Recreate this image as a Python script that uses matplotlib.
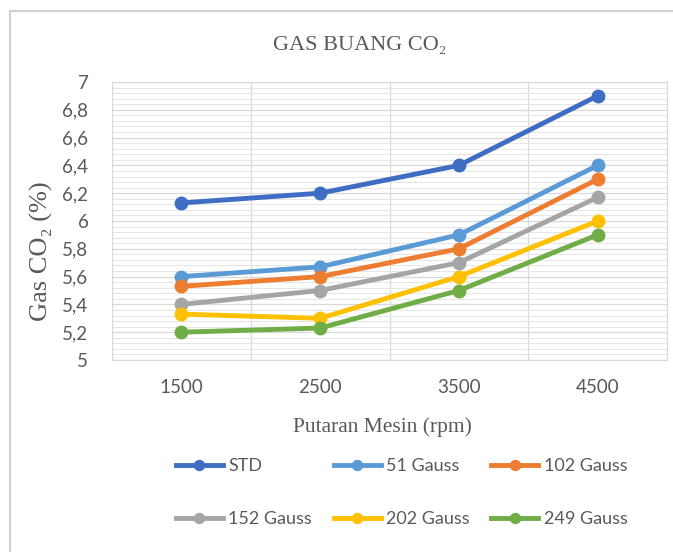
import numpy as np
import matplotlib.pyplot as plt
from matplotlib.ticker import MultipleLocator, FuncFormatter
from matplotlib.patches import Rectangle

# engine speed categories
rpm = ["1500", "2500", "3500", "4500"]

# CO2 exhaust gas (%) per magnet strength
std = [6.13, 6.20, 6.40, 6.90]
g51 = [5.60, 5.67, 5.90, 6.40]
g102 = [5.53, 5.60, 5.80, 6.30]
g152 = [5.40, 5.50, 5.70, 6.17]
g202 = [5.33, 5.30, 5.60, 6.00]
g249 = [5.20, 5.23, 5.50, 5.90]

labels = ["STD", "51 Gauss", "102 Gauss", "152 Gauss", "202 Gauss", "249 Gauss"]
colors = ["#3F6DC4", "#5B9BD5", "#ED7D31", "#A5A5A5", "#FFC000", "#70AD47"]

serif = "Liberation Serif"
sans = "Lato"
text_col = "#595959"

fig = plt.figure(figsize=(6.73, 5.52), dpi=100)
# chart frame
fig.patches.append(Rectangle((10 / 673, -0.1), 1.2, (552 - 11) / 552 + 0.1,
                             transform=fig.transFigure, fill=False,
                             edgecolor="#d0d0d0", linewidth=1.5))

ax = fig.add_axes([112 / 673, (552 - 360) / 552, 555 / 673, 278 / 552])

x = np.arange(1, len(rpm) + 1)
lines = []
for vals, lab, col in zip([std, g51, g102, g152, g202, g249], labels, colors):
    ln, = ax.plot(x, vals, color=col, linewidth=3.5, marker="o", markersize=9,
                  label=lab, zorder=3)
    lines.append(ln)

ax.set_xlim(0.5, len(rpm) + 0.5)
ax.set_ylim(5, 7)
ax.set_xticks(x)
ax.set_xticklabels(rpm)
ax.xaxis.set_minor_locator(MultipleLocator(1, offset=0.5))
ax.yaxis.set_major_locator(MultipleLocator(0.2))
ax.yaxis.set_minor_locator(MultipleLocator(0.04))
ax.yaxis.set_major_formatter(FuncFormatter(lambda v, p: f"{v:g}".replace(".", ",")))

ax.grid(which="minor", axis="x", color="#d9d9d9", linewidth=0.9)
ax.grid(which="major", axis="y", color="#d9d9d9", linewidth=0.9)
ax.grid(which="minor", axis="y", color="#e6e6e6", linewidth=0.7)
ax.set_axisbelow(True)
ax.tick_params(which="both", length=0)
ax.tick_params(axis="y", pad=17, labelsize=13.5, labelcolor=text_col)
ax.tick_params(axis="x", pad=14, labelsize=13.5, labelcolor=text_col)
for lbl in ax.get_xticklabels() + ax.get_yticklabels():
    lbl.set_fontfamily(sans)
for s in ax.spines.values():
    s.set_color("#d9d9d9")

fig.text(360 / 673, 1 - 45 / 552, "GAS BUANG CO₂", fontfamily=serif, fontsize=16,
         color=text_col, ha="center", va="center")
ax.set_xlabel("Putaran Mesin (rpm)", fontfamily=serif, fontsize=15.5, color=text_col,
              va="center")
ax.xaxis.set_label_coords(0.488, -0.241)
ax.set_ylabel("Gas CO₂ (%)", fontfamily=serif, fontsize=19, color=text_col,
              va="center")
ax.yaxis.set_label_coords(-0.128, 0.39)

# legend filled row by row: STD, 51, 102 / 152, 202, 249
order = [0, 3, 1, 4, 2, 5]
fig.legend([lines[i] for i in order], [labels[i] for i in order],
           loc="upper center", bbox_to_anchor=(0.597, 0.2), ncol=3,
           frameon=False, prop={"family": sans, "size": 13},
           labelcolor=text_col, handlelength=2.6, columnspacing=1.2,
           labelspacing=2.05, markerscale=0.8, handletextpad=0.3)

plt.savefig("out.png", dpi=100)
